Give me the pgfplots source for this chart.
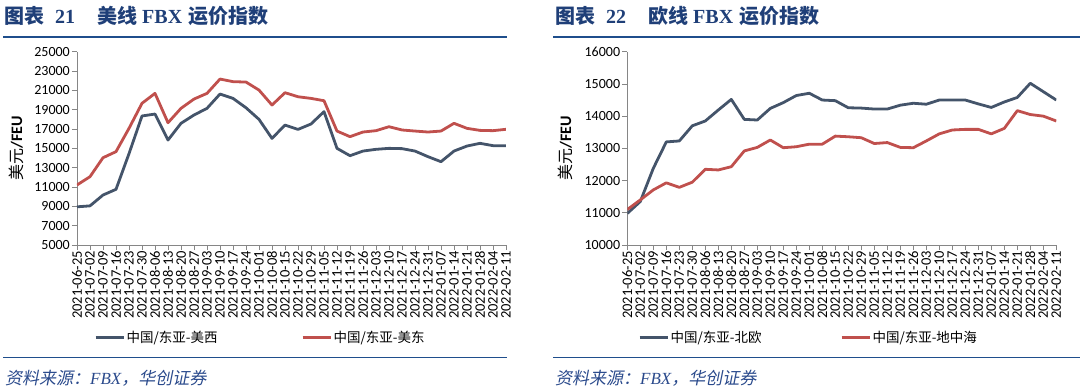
\documentclass[border=0pt]{standalone}
\usepackage{pgfplots}
\pgfplotsset{compat=1.18}
\usepackage{fontspec}
\setmainfont{Carlito}
\newfontfamily\cjk{Noto Sans CJK SC}
\newfontfamily\cjkit[FakeSlant=0.2]{Noto Sans CJK SC}
\newfontfamily\tnr{Liberation Serif}
\definecolor{lblue}{HTML}{44546A}
\definecolor{lred}{HTML}{C0504D}
\definecolor{navy}{HTML}{1F3F78}
\definecolor{rulec}{HTML}{1F4E8C}
\definecolor{srcc}{HTML}{2A4A8C}
\definecolor{axgray}{HTML}{868686}

\pgfplotsset{
  fbx/.style={
    scale only axis, width=429pt, height=193.3pt,
    axis lines*=left,
    axis line style={axgray, line width=0.8pt},
    xmin=0, xmax=33,
    xtick={0,...,33},
    xticklabels={2021-06-25,2021-07-02,2021-07-09,2021-07-16,2021-07-23,2021-07-30,2021-08-06,2021-08-13,2021-08-20,2021-08-27,2021-09-03,2021-09-10,2021-09-17,2021-09-24,2021-10-01,2021-10-08,2021-10-15,2021-10-22,2021-10-29,2021-11-05,2021-11-12,2021-11-19,2021-11-26,2021-12-03,2021-12-10,2021-12-17,2021-12-24,2021-12-31,2022-01-07,2022-01-14,2022-01-21,2022-01-28,2022-02-04,2022-02-11},
    tick align=outside,
    major tick length=5pt,
    tick style={axgray, line width=0.8pt},
    x tick label style={rotate=90, anchor=east, font=\fontsize{14.5}{15}\selectfont, inner sep=1pt},
    y tick label style={font=\fontsize{14}{14}\selectfont, inner sep=2pt},
    /pgf/number format/assume math mode=true,
    /pgf/number format/1000 sep={},
    scaled y ticks=false,
    legend columns=2,
    legend cell align=left,
    legend image code/.code={\draw[##1, line width=3pt] (0pt,0pt) -- (28pt,0pt);},
    legend style={draw=none, fill=none, inner sep=0pt, outer sep=0pt,
      nodes={inner sep=1.5pt, font=\cjk\fontsize{13.5}{14}\selectfont}},
    every axis plot/.append style={line width=2.8pt, line join=round, no markers},
  }
}

\begin{document}
\begin{tikzpicture}
\useasboundingbox (0pt,0pt) rectangle (1080pt,-389pt);

% ---------- left panel ----------
\node[anchor=base west, inner sep=0, text=navy, font=\cjk\bfseries\fontsize{20}{20}\selectfont] at (4pt,-23pt) {图表};
\node[anchor=base west, inner sep=0, text=navy, font=\tnr\bfseries\fontsize{20}{20}\selectfont] at (55pt,-23pt) {21};
\node[anchor=base west, inner sep=0, text=navy, font=\cjk\bfseries\fontsize{20}{20}\selectfont] at (97pt,-23pt) {美线};
\node[anchor=base west, inner sep=0, text=navy, font=\tnr\bfseries\fontsize{20}{20}\selectfont] at (142pt,-23pt) {FBX};
\node[anchor=base west, inner sep=0, text=navy, font=\cjk\bfseries\fontsize{20}{20}\selectfont] at (188pt,-23pt) {运价指数};
\draw[rulec, line width=2.2pt] (3pt,-37.3pt) -- (507pt,-37.3pt);
\draw[rulec, line width=1.5pt] (3pt,-357.3pt) -- (507pt,-357.3pt);
\node[anchor=west, inner sep=0, text=srcc, font=\fontsize{17}{17}\selectfont] at (5pt,-378pt)
  {{\cjkit 资料来源：}{\tnr\itshape FBX}{\cjkit ，华创证券}};

\begin{axis}[fbx, at={(77pt,-245pt)}, anchor=south west,
  ymin=5000, ymax=25000, ytick={5000,7000,...,25000},
  ylabel={{\cjk 美元}\textbf{/FEU}},
  every axis y label/.style={at={(axis description cs:-0.142,0.5)}, rotate=90, anchor=center, font=\fontsize{16}{16}\selectfont},
  legend style={at={(axis description cs:0.040,-0.477)}, anchor=west,
    /tikz/every even column/.append style={column sep=82pt}}]
\addplot[lblue] coordinates {
(0,8950) (1,9050) (2,10170) (3,10760) (4,14450) (5,18350) (6,18550) (7,15860)
(8,17590) (9,18450) (10,19140) (11,20620) (12,20170) (13,19200) (14,18000) (15,16030)
(16,17410) (17,16960) (18,17520) (19,18800) (20,15000) (21,14240) (22,14720) (23,14900)
(24,15000) (25,14970) (26,14720) (27,14140) (28,13620) (29,14720) (30,15240) (31,15520)
(32,15280) (33,15280)};
\addlegendentry{中国/东亚-美西}
\addplot[lred] coordinates {
(0,11210) (1,12070) (2,14030) (3,14660) (4,17070) (5,19660) (6,20690) (7,17650)
(8,19140) (9,20100) (10,20690) (11,22170) (12,21900) (13,21860) (14,21030) (15,19480)
(16,20760) (17,20340) (18,20170) (19,19930) (20,16790) (21,16210) (22,16690) (23,16830)
(24,17240) (25,16900) (26,16790) (27,16690) (28,16790) (29,17590) (30,17070) (31,16860)
(32,16830) (33,16970)};
\addlegendentry{中国/东亚-美东}
\end{axis}

% ---------- right panel ----------
\node[anchor=base west, inner sep=0, text=navy, font=\cjk\bfseries\fontsize{20}{20}\selectfont] at (555pt,-23pt) {图表};
\node[anchor=base west, inner sep=0, text=navy, font=\tnr\bfseries\fontsize{20}{20}\selectfont] at (606pt,-23pt) {22};
\node[anchor=base west, inner sep=0, text=navy, font=\cjk\bfseries\fontsize{20}{20}\selectfont] at (648pt,-23pt) {欧线};
\node[anchor=base west, inner sep=0, text=navy, font=\tnr\bfseries\fontsize{20}{20}\selectfont] at (693pt,-23pt) {FBX};
\node[anchor=base west, inner sep=0, text=navy, font=\cjk\bfseries\fontsize{20}{20}\selectfont] at (739pt,-23pt) {运价指数};
\draw[rulec, line width=2.2pt] (553pt,-37.3pt) -- (1080pt,-37.3pt);
\draw[rulec, line width=1.5pt] (553pt,-357.3pt) -- (1080pt,-357.3pt);
\node[anchor=west, inner sep=0, text=srcc, font=\fontsize{17}{17}\selectfont] at (555pt,-378pt)
  {{\cjkit 资料来源：}{\tnr\itshape FBX}{\cjkit ，华创证券}};

\begin{axis}[fbx, at={(627.3pt,-245pt)}, anchor=south west,
  ymin=10000, ymax=16000, ytick={10000,11000,...,16000},
  ylabel={{\cjk 美元}\textbf{/FEU}},
  every axis y label/.style={at={(axis description cs:-0.145,0.5)}, rotate=90, anchor=center, font=\fontsize{16}{16}\selectfont},
  legend style={at={(axis description cs:0.025,-0.477)}, anchor=west,
    /tikz/every even column/.append style={column sep=77pt}}]
\addplot[lblue] coordinates {
(0,10980) (1,11350) (2,12380) (3,13200) (4,13230) (5,13700) (6,13850) (7,14190)
(8,14520) (9,13900) (10,13880) (11,14240) (12,14420) (13,14640) (14,14710) (15,14500)
(16,14480) (17,14260) (18,14250) (19,14220) (20,14220) (21,14340) (22,14400) (23,14370)
(24,14500) (25,14500) (26,14500) (27,14380) (28,14270) (29,14440) (30,14580) (31,15020)
(32,14760) (33,14500)};
\addlegendentry{中国/东亚-北欧}
\addplot[lred] coordinates {
(0,11100) (1,11400) (2,11710) (3,11930) (4,11790) (5,11950) (6,12350) (7,12330)
(8,12430) (9,12920) (10,13030) (11,13260) (12,13020) (13,13050) (14,13130) (15,13130)
(16,13380) (17,13360) (18,13330) (19,13150) (20,13180) (21,13030) (22,13020) (23,13230)
(24,13450) (25,13570) (26,13590) (27,13590) (28,13450) (29,13620) (30,14170) (31,14050)
(32,14000) (33,13850)};
\addlegendentry{中国/东亚-地中海}
\end{axis}
\end{tikzpicture}
\end{document}
